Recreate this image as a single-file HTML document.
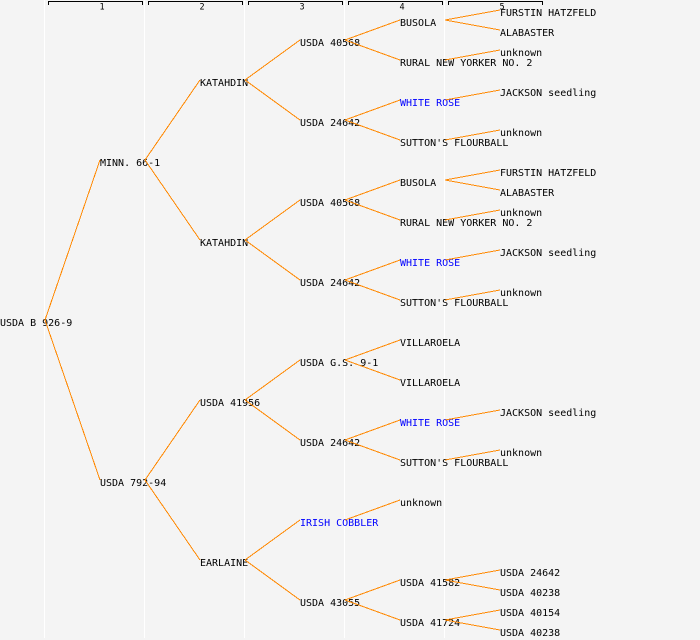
<!DOCTYPE html>
<html>
<head>
<meta charset="utf-8">
<style>
  html, body { margin:0; padding:0; background:#f4f4f4; }
  svg { display:block; }
  .t { font-family: "DejaVu Sans Mono", "Liberation Mono", monospace; font-size:10px; fill:#000; }
  .b { fill:#0000ff; }
  .h { font-family: "DejaVu Sans Mono", "Liberation Mono", monospace; font-size:8.5px; fill:#000; }
  .e { stroke:#ff8800; stroke-width:1; fill:none; }
</style>
</head>
<body>
<svg width="700" height="640" viewBox="0 0 700 640" xmlns="http://www.w3.org/2000/svg">
  <rect x="0" y="0" width="700" height="640" fill="#f4f4f4"/>
  <!-- column separators -->
  <rect x="44" y="0" width="1" height="638" fill="#ffffff"/>
  <rect x="144" y="0" width="1" height="638" fill="#ffffff"/>
  <rect x="244" y="0" width="1" height="638" fill="#ffffff"/>
  <rect x="344" y="0" width="1" height="638" fill="#ffffff"/>
  <rect x="444" y="0" width="1" height="638" fill="#ffffff"/>

  <!-- header brackets -->
  <g stroke="#000" stroke-width="1" fill="none" shape-rendering="crispEdges">
    <path d="M48.5 5 V1.5 H142.5 V5"/>
    <path d="M148.5 5 V1.5 H242.5 V5"/>
    <path d="M248.5 5 V1.5 H342.5 V5"/>
    <path d="M348.5 5 V1.5 H442.5 V5"/>
    <path d="M448.5 5 V1.5 H542.5 V5"/>
  </g>
  <text class="h" x="102" y="9.5" text-anchor="middle">1</text>
  <text class="h" x="202" y="9.5" text-anchor="middle">2</text>
  <text class="h" x="302" y="9.5" text-anchor="middle">3</text>
  <text class="h" x="402" y="9.5" text-anchor="middle">4</text>
  <text class="h" x="502" y="9.5" text-anchor="middle">5</text>

  <!-- node labels -->
  <text class="t" x="0" y="326">USDA B 926-9</text>

  <text class="t" x="100" y="166">MINN. 66-1</text>
  <text class="t" x="100" y="486">USDA 792-94</text>

  <text class="t" x="200" y="86">KATAHDIN</text>
  <text class="t" x="200" y="246">KATAHDIN</text>
  <text class="t" x="200" y="406">USDA 41956</text>
  <text class="t" x="200" y="566">EARLAINE</text>

  <text class="t" x="300" y="46">USDA 40568</text>
  <text class="t" x="300" y="126">USDA 24642</text>
  <text class="t" x="300" y="206">USDA 40568</text>
  <text class="t" x="300" y="286">USDA 24642</text>
  <text class="t" x="300" y="366">USDA G.S. 9-1</text>
  <text class="t" x="300" y="446">USDA 24642</text>
  <text class="t b" x="300" y="526">IRISH COBBLER</text>
  <text class="t" x="300" y="606">USDA 43055</text>

  <text class="t" x="400" y="26">BUSOLA</text>
  <text class="t" x="400" y="66">RURAL NEW YORKER NO. 2</text>
  <text class="t b" x="400" y="106">WHITE ROSE</text>
  <text class="t" x="400" y="146">SUTTON'S FLOURBALL</text>
  <text class="t" x="400" y="186">BUSOLA</text>
  <text class="t" x="400" y="226">RURAL NEW YORKER NO. 2</text>
  <text class="t b" x="400" y="266">WHITE ROSE</text>
  <text class="t" x="400" y="306">SUTTON'S FLOURBALL</text>
  <text class="t" x="400" y="346">VILLAROELA</text>
  <text class="t" x="400" y="386">VILLAROELA</text>
  <text class="t b" x="400" y="426">WHITE ROSE</text>
  <text class="t" x="400" y="466">SUTTON'S FLOURBALL</text>
  <text class="t" x="400" y="506">unknown</text>
  <text class="t" x="400" y="586">USDA 41582</text>
  <text class="t" x="400" y="626">USDA 41724</text>

  <text class="t" x="500" y="16">FURSTIN HATZFELD</text>
  <text class="t" x="500" y="36">ALABASTER</text>
  <text class="t" x="500" y="56">unknown</text>
  <text class="t" x="500" y="96">JACKSON seedling</text>
  <text class="t" x="500" y="136">unknown</text>
  <text class="t" x="500" y="176">FURSTIN HATZFELD</text>
  <text class="t" x="500" y="196">ALABASTER</text>
  <text class="t" x="500" y="216">unknown</text>
  <text class="t" x="500" y="256">JACKSON seedling</text>
  <text class="t" x="500" y="296">unknown</text>
  <text class="t" x="500" y="416">JACKSON seedling</text>
  <text class="t" x="500" y="456">unknown</text>
  <text class="t" x="500" y="576">USDA 24642</text>
  <text class="t" x="500" y="596">USDA 40238</text>
  <text class="t" x="500" y="616">USDA 40154</text>
  <text class="t" x="500" y="636">USDA 40238</text>

  <!-- connectors -->
  <g class="e" shape-rendering="crispEdges">
    <!-- L0 -> L1 -->
    <line x1="45" y1="320" x2="100" y2="160"/>
    <line x1="45" y1="320" x2="100" y2="480"/>
    <!-- L1 -> L2 -->
    <line x1="145" y1="160" x2="200" y2="80"/>
    <line x1="145" y1="160" x2="200" y2="240"/>
    <line x1="145" y1="480" x2="200" y2="400"/>
    <line x1="145" y1="480" x2="200" y2="560"/>
    <!-- L2 -> L3 -->
    <line x1="245" y1="80" x2="300" y2="40"/>
    <line x1="245" y1="80" x2="300" y2="120"/>
    <line x1="245" y1="240" x2="300" y2="200"/>
    <line x1="245" y1="240" x2="300" y2="280"/>
    <line x1="245" y1="400" x2="300" y2="360"/>
    <line x1="245" y1="400" x2="300" y2="440"/>
    <line x1="245" y1="560" x2="300" y2="520"/>
    <line x1="245" y1="560" x2="300" y2="600"/>
    <!-- L3 -> L4 -->
    <line x1="345" y1="40" x2="400" y2="20"/>
    <line x1="345" y1="40" x2="400" y2="60"/>
    <line x1="345" y1="120" x2="400" y2="100"/>
    <line x1="345" y1="120" x2="400" y2="140"/>
    <line x1="345" y1="200" x2="400" y2="180"/>
    <line x1="345" y1="200" x2="400" y2="220"/>
    <line x1="345" y1="280" x2="400" y2="260"/>
    <line x1="345" y1="280" x2="400" y2="300"/>
    <line x1="345" y1="360" x2="400" y2="340"/>
    <line x1="345" y1="360" x2="400" y2="380"/>
    <line x1="345" y1="440" x2="400" y2="420"/>
    <line x1="345" y1="440" x2="400" y2="460"/>
    <line x1="345" y1="520" x2="400" y2="500"/>
    <line x1="345" y1="600" x2="400" y2="580"/>
    <line x1="345" y1="600" x2="400" y2="620"/>
    <!-- L4 -> L5 -->
    <line x1="445" y1="20" x2="500" y2="10"/>
    <line x1="445" y1="20" x2="500" y2="30"/>
    <line x1="445" y1="60" x2="500" y2="50"/>
    <line x1="445" y1="100" x2="500" y2="90"/>
    <line x1="445" y1="140" x2="500" y2="130"/>
    <line x1="445" y1="180" x2="500" y2="170"/>
    <line x1="445" y1="180" x2="500" y2="190"/>
    <line x1="445" y1="220" x2="500" y2="210"/>
    <line x1="445" y1="260" x2="500" y2="250"/>
    <line x1="445" y1="300" x2="500" y2="290"/>
    <line x1="445" y1="420" x2="500" y2="410"/>
    <line x1="445" y1="460" x2="500" y2="450"/>
    <line x1="445" y1="580" x2="500" y2="570"/>
    <line x1="445" y1="580" x2="500" y2="590"/>
    <line x1="445" y1="620" x2="500" y2="610"/>
    <line x1="445" y1="620" x2="500" y2="630"/>
  </g>
</svg>
</body>
</html>
